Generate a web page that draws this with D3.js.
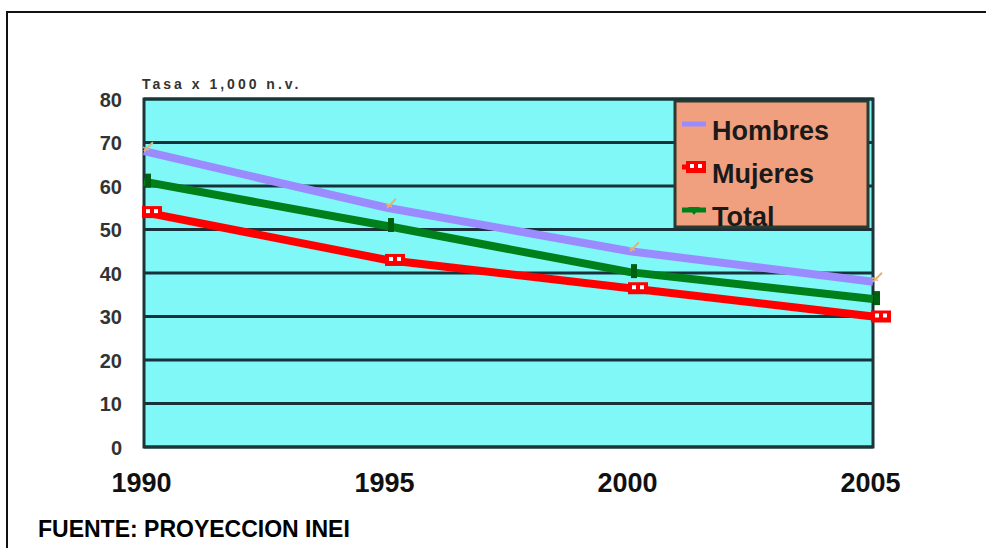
<!DOCTYPE html>
<html><head><meta charset="utf-8">
<script src="https://cdn.jsdelivr.net/npm/d3@7"></script>
<style>body{margin:0;background:#fff}svg{display:block}</style>
</head><body>
<svg id="c" width="986" height="548"></svg>
<script>
const years = [1990, 1995, 2000, 2005];
const hombres = [68, 55, 45, 38];
const mujeres = [54, 43, 36.5, 30];
const total = [61, 50.8, 40.2, 34];
const yTicks = [0, 10, 20, 30, 40, 50, 60, 70, 80];
const seriesNames = ["Hombres", "Mujeres", "Total"];
const yTitle = "Tasa x 1,000 n.v.";
const source = "FUENTE: PROYECCION INEI";

const svg = d3.select("#c");
const L = 144, R = 873, T = 99, B = 447;
const x = d3.scaleLinear().domain([1990, 2005]).range([L, R]);
const y = d3.scaleLinear().domain([0, 80]).range([B, T]);

// outer frame (left and top edges visible)
svg.append("path").attr("d", "M7,560 V12 H1000")
  .attr("fill", "none").attr("stroke", "#111").attr("stroke-width", 2);

// plot background
svg.append("rect").attr("x", L).attr("y", T).attr("width", R - L).attr("height", B - T)
  .attr("fill", "#80F8F8");

// gridlines
svg.append("g").selectAll("line").data(yTicks).join("line")
  .attr("x1", L).attr("x2", R).attr("y1", d => y(d)).attr("y2", d => y(d))
  .attr("stroke", "#17323a").attr("stroke-width", 3);

// legend box
const lg = svg.append("g");
lg.append("rect").attr("x", 675).attr("y", 101).attr("width", 193).attr("height", 126)
  .attr("fill", "#F0A07E").attr("stroke", "#2a3a30").attr("stroke-width", 3);

// plot border
svg.append("rect").attr("x", L).attr("y", T).attr("width", R - L).attr("height", B - T)
  .attr("fill", "none").attr("stroke", "#1b3638").attr("stroke-width", 3);

// y axis
const yAxis = d3.axisLeft(y).tickValues(yTicks).tickSize(0).tickPadding(22);
const ya = svg.append("g").attr("transform", `translate(${L},0)`).call(yAxis);
ya.select(".domain").remove();
ya.selectAll("text").attr("font-family", "Liberation Sans, Arial, sans-serif")
  .attr("font-size", 20).attr("font-weight", "bold").attr("fill", "#333").attr("dy", "0.35em");

// x axis
const xAxis = d3.axisBottom(x).tickValues(years).tickFormat(d3.format("d")).tickSize(0).tickPadding(26);
const xa = svg.append("g").attr("transform", `translate(-3,${B})`).call(xAxis);
xa.select(".domain").remove();
xa.selectAll("text").attr("font-family", "Liberation Sans, Arial, sans-serif")
  .attr("font-size", 27).attr("font-weight", "bold").attr("fill", "#111");

// y title
svg.append("text").attr("x", 142).attr("y", 89).text(yTitle)
  .attr("font-family", "Liberation Sans, Arial, sans-serif").attr("font-size", 14)
  .attr("letter-spacing", 3).attr("fill", "#333").attr("font-weight", "bold");

// lines
const series = [
  {name: seriesNames[0], vals: hombres, color: "#9A8CFF"},
  {name: seriesNames[1], vals: mujeres, color: "#FF0000"},
  {name: seriesNames[2], vals: total, color: "#00801A"}
];
const line = d3.line().x(d => x(d[0])).y(d => y(d[1]));
series.forEach(s => {
  svg.append("path").datum(years.map((yr, i) => [yr, s.vals[i]]))
    .attr("d", line).attr("fill", "none").attr("stroke", s.color).attr("stroke-width", 8);
});

// markers
function drawMarker(g, kind, cx, cy) {
  if (kind === 0) {
    g.append("line").attr("x1", cx - 4).attr("y1", cy + 4).attr("x2", cx + 5).attr("y2", cy - 5)
      .attr("stroke", "#E8B070").attr("stroke-width", 2);
    g.append("line").attr("x1", cx - 5).attr("y1", cy).attr("x2", cx + 1).attr("y2", cy + 3)
      .attr("stroke", "#E8B070").attr("stroke-width", 1.5);
  } else if (kind === 1) {
    g.append("rect").attr("x", cx - 10).attr("y", cy - 6).attr("width", 20).attr("height", 12).attr("fill", "#FF0000");
    g.append("rect").attr("x", cx - 6).attr("y", cy - 3).attr("width", 4).attr("height", 4).attr("fill", "#fff");
    g.append("rect").attr("x", cx + 2).attr("y", cy - 3).attr("width", 4).attr("height", 4).attr("fill", "#fff");
  } else {
    g.append("rect").attr("x", cx - 3).attr("y", cy - 8).attr("width", 6).attr("height", 14).attr("fill", "#006010");
  }
}
const mg = svg.append("g");
series.forEach((s, k) => {
  years.forEach((yr, i) => {
    const dx = k === 1 ? 8 : 4;
    drawMarker(mg, k, x(yr) + dx, y(s.vals[i]) - (k === 0 ? 4 : 0));
  });
});

// legend entries
const legY = [132, 175, 218];
series.forEach((s, k) => {
  lg.append("line").attr("x1", 682).attr("x2", 706).attr("y1", legY[k] - 8).attr("y2", legY[k] - 8)
    .attr("stroke", s.color).attr("stroke-width", 5);
  if (k === 1) drawMarker(lg, 1, 696, legY[k] - 8);
  if (k === 2) lg.append("path").attr("d", `M${688},${legY[k]-11} L${700},${legY[k]-11} L${694},${legY[k]-3} Z`).attr("fill", s.color);
  lg.append("text").attr("x", 712).attr("y", legY[k] + 8).text(s.name)
    .attr("font-family", "Liberation Sans, Arial, sans-serif").attr("font-size", 27)
    .attr("font-weight", "bold").attr("fill", "#1a1a1a");
});

// source
svg.append("text").attr("x", 38).attr("y", 537).text(source)
  .attr("font-family", "Liberation Sans, Arial, sans-serif").attr("font-size", 23)
  .attr("font-weight", "bold").attr("fill", "#000");
</script>
</body></html>
